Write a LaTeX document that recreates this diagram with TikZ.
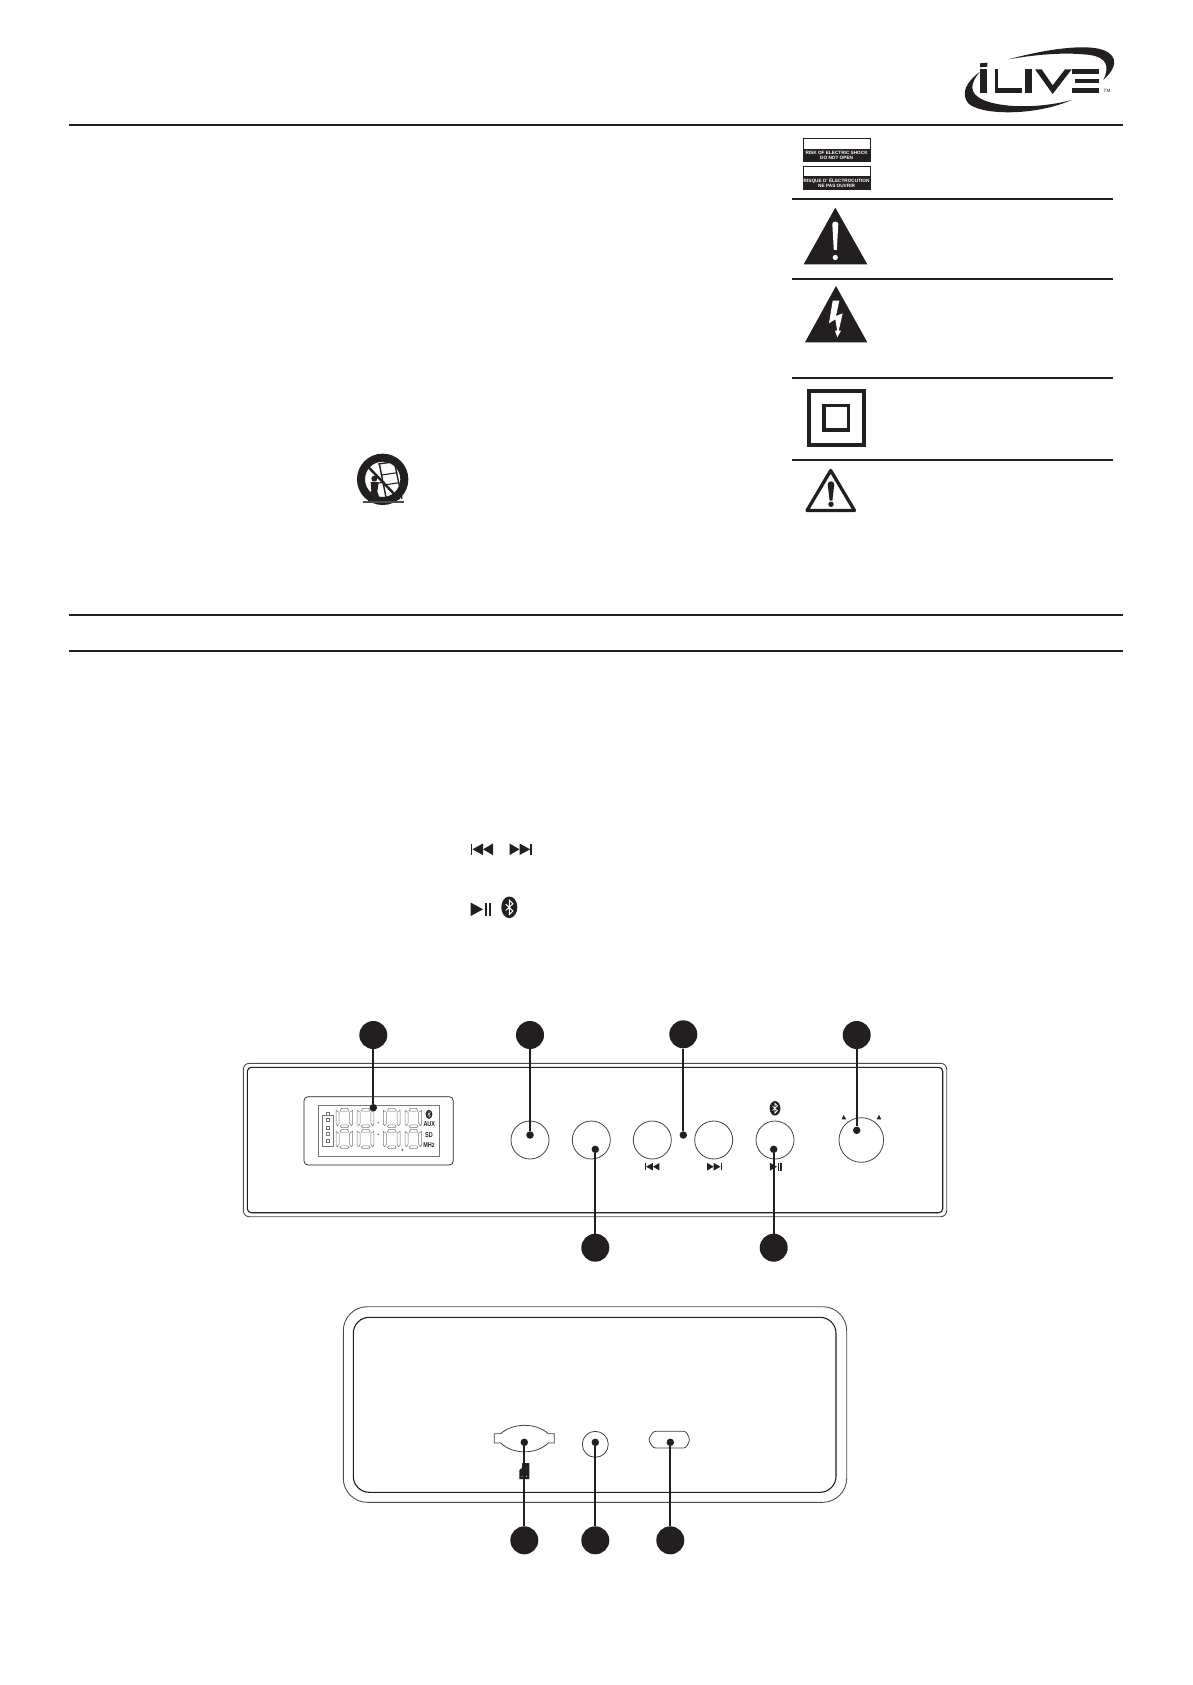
\documentclass[tikz,border=0pt]{standalone}
\usepackage{fontspec}
\setmainfont{Liberation Sans}
\definecolor{inkblack}{RGB}{35,31,32}
\definecolor{lcdgray}{RGB}{120,120,120}
\tikzset{
  rule-line/.style={draw=inkblack, line width=1.9pt},
  marker-dot/.style={circle, fill=inkblack, minimum size=28pt, inner sep=0pt},
  target-dot/.style={circle, fill=inkblack, minimum size=7.5pt, inner sep=0pt},
  lead-line/.style={draw=inkblack, line width=1.7pt},
  outer-case/.style={draw=inkblack!80, line width=0.9pt},
  inner-case/.style={draw=inkblack, line width=1.1pt},
  panel-button/.style={draw=inkblack!85, line width=0.8pt},
  lcd-part/.style={draw=lcdgray, line width=0.5pt},
  lcd-text/.style={font=\bfseries\fontsize{7}{8}\selectfont, text=inkblack, inner sep=0pt, xscale=0.78},
  label-text/.style={font=\bfseries\fontsize{4.7}{5}\selectfont, text=white, inner sep=0pt, align=center},
  pics/skip-icon/.style={code={
    \fill[inkblack] (-11,-5.8) rectangle (-9.6,5.8);
    \fill[inkblack] (-9.6,0) -- (1,-5.8) -- (1,5.8) -- cycle;
    \fill[inkblack] (1,0) -- (11,-5.8) -- (11,5.8) -- cycle;
  }},
  pics/play-icon/.style={code={
    \fill[inkblack] (-10,-6.7) -- (2.3,0) -- (-10,6.7) -- cycle;
    \fill[inkblack] (4,-6.7) rectangle (6,6.7);
    \fill[inkblack] (8,-6.7) rectangle (10,6.7);
  }},
  pics/bt-icon/.style={code={
    \fill[inkblack] (0,0) ellipse [x radius=8, y radius=10.8];
    \draw[white, line width=#1, line join=miter]
      (-3.6,-3.2) -- (3.6,3.6) -- (0,7.2) -- (0,-7.2) -- (3.6,-3.6) -- (-3.6,3.2);
  }},
  pics/lcd-digit/.style={code={
    \draw[lcd-part] (4,2.8) -- (5.5,0) -- (11.5,0) -- (13,2.8) -- cycle;
    \draw[lcd-part] (0,2) -- (3,4) -- (3,15) -- (1.5,17.5) -- (0,16) -- cycle;
    \draw[lcd-part] (16.7,2) -- (13.7,4) -- (13.7,15) -- (15.2,17.5) -- (16.7,16) -- cycle;
    \draw[lcd-part] (4,18) -- (5.5,16.6) -- (11.5,16.6) -- (13,18) -- (11.5,19.4) -- (5.5,19.4) -- cycle;
  }}
}

\begin{document}
\begin{tikzpicture}[x=1pt, y=-1pt]
  \useasboundingbox (0,0) rectangle (1192,1685);
  % Header and section rules
  \draw[rule-line] (69,125) -- (1123,125);
  \draw[rule-line] (69,615) -- (1123,615);
  \draw[rule-line] (69,651) -- (1123,651);
  \foreach \ruley in {199,279,378,460}
    \draw[rule-line] (792,\ruley) -- (1113,\ruley);

  % Logo
  \begin{scope}[shift={(760,0)}, scale=1/3]
    \fill[inkblack] (745,178) .. controls (850,150) and (950,135) .. (1010,145)
      .. controls (1065,155) and (1085,190) .. (1030,240)
      .. controls (1050,200) and (1040,172) .. (990,165)
      .. controls (910,155) and (820,165) .. (745,178);
    \fill[inkblack] (660,215) .. controls (620,245) and (600,280) .. (625,310)
      .. controls (660,345) and (820,350) .. (935,300)
      .. controls (840,325) and (730,325) .. (670,300)
      .. controls (625,280) and (630,250) .. (660,215);
    \fill[inkblack] (660,190) -- (682,188) -- (682,200) -- (660,202) -- cycle;
    \fill[inkblack] (660,208) rectangle (682,278);
    \fill[inkblack] (705,208) rectangle (713,278);
    \fill[inkblack] (705,264) rectangle (785,278);
    \fill[inkblack] (795,208) rectangle (815,278);
    \fill[inkblack] (825,208) -- (845,208) -- (878,256) -- (915,208) -- (935,208) -- (878,282) -- cycle;
    \fill[inkblack] (935,208) rectangle (1018,222);
    \fill[inkblack] (945,238) rectangle (1018,248);
    \fill[inkblack] (935,264) rectangle (1018,278);
  \end{scope}
  \node[font=\fontsize{4.6}{5}\selectfont, text=inkblack, inner sep=0pt] (logo-tm) at (1107,90.5) {TM};

  % Shock labels
  \fill[inkblack] (803.3,149) rectangle (870,161);
  \draw[inkblack, line width=0.7pt] (803.3,138.3) rectangle (870,161);
  \node[label-text] (label-en) at (836.6,155) {RISK OF ELECTRIC SHOCK\\DO NOT OPEN};
  \fill[inkblack] (803.3,176) rectangle (870,189);
  \draw[inkblack, line width=0.7pt] (803.3,166) rectangle (870,189);
  \node[label-text] (label-fr) at (836.6,182.5) {RISQUE D' ÉLECTROCUTION\\NE PAS OUVRIR};

  % Solid warning triangle
  \fill[inkblack] (835.3,207.7) -- (867.3,264.3) -- (803.7,264.3) -- cycle;
  \fill[white] (832.3,224) .. controls (832.3,220.8) and (838.3,220.8) .. (838.3,224)
    -- (836.8,250) -- (833.8,250) -- cycle;
  \fill[white] (835.3,257.5) circle[radius=2.6];

  % Lightning triangle
  \fill[inkblack] (836,286) -- (867.3,342.3) -- (805,342.3) -- cycle;
  \fill[white] (832.7,300.7) -- (839.3,300.7) -- (836,316) -- (842.7,313.3) -- (838.7,330.7)
    -- (841,330.7) -- (837.3,337.3) -- (835,330.7) -- (837.2,330.7) -- (835.3,319.3) -- (829,323.3) -- cycle;

  % Double insulation squares
  \draw[inkblack, line width=3.3pt] (809,391) rectangle (864,445);
  \draw[inkblack, line width=3.3pt] (824,405.7) rectangle (848.4,430);

  % Outline warning triangle
  \draw[inkblack, line width=3.3pt, line join=round] (830.7,470.5) -- (854.5,510.5) -- (807,510.5) -- cycle;
  \fill[inkblack] (827.7,484.5) .. controls (827.7,480.2) and (834.3,480.2) .. (834.3,484.5)
    -- (832.4,500.5) -- (829.6,500.5) -- cycle;
  \fill[inkblack] (831,504.3) circle[radius=2.7];

  % Do not tip icon
  \begin{scope}[shift={(340,440)}, scale=1/3]
    \draw[inkblack, line width=8pt] (128,118) circle[radius=65];
    \draw[inkblack, line width=2.4pt] (82,78) -- (178,178);
    \draw[inkblack, line width=1.4pt] (115,72) -- (165,65);
    \draw[inkblack, line width=1.4pt] (118,72) -- (140,182);
    \draw[inkblack, line width=1.4pt] (163,65) -- (186,176);
    \draw[inkblack, line width=1.1pt] (125,105) -- (172,98);
    \draw[inkblack, line width=1.1pt] (132,135) -- (178,128);
    \fill[inkblack] (103,116) circle[radius=9];
    \fill[inkblack] (92,126) -- (116,126) -- (112,155) -- (122,183) -- (110,183) -- (101,160) -- (94,183) -- (84,183) -- (94,150) -- cycle;
    \draw[inkblack, line width=1.1pt] (110,130) -- (134,126);
    \draw[inkblack!80, line width=1.2pt] (68,186) -- (192,186);
  \end{scope}

  % Inline key symbols
  \pic at (482,849.3) {skip-icon};
  \pic[xscale=-1] at (520.5,849.3) {skip-icon};
  \pic at (480.7,909.3) {play-icon};
  \pic at (509.3,907.3) {bt-icon=1};

  % Front panel
  \draw[outer-case, rounded corners=6pt] (243.3,1063.3) rectangle (946.7,1216.7);
  \draw[inner-case, rounded corners=4pt] (247.3,1067.3) rectangle (942.7,1212.7);

  % Display
  \draw[inkblack, line width=0.7pt, rounded corners=4pt] (304,1096.7) rectangle (453.3,1165);
  \draw[lcdgray, line width=0.5pt] (318,1105.3) rectangle (439.3,1156.7);
  \foreach \digitx in {336,357.2,383.3,405}{
    \pic at (\digitx,1108.3) {lcd-digit};
    \pic at (\digitx,1129.3) {lcd-digit};
  }
  \draw[lcd-part] (322.3,1115) rectangle (333.7,1146.7);
  \draw[lcd-part] (326,1112) rectangle (329.3,1115);
  \foreach \celly in {1120,1127.3,1134,1140.7}
    \draw[lcd-part] (326.5,\celly-1.5) rectangle (329.5,\celly+1.5);
  \fill[lcdgray] (378.3,1122.7) circle[radius=0.9];
  \fill[lcdgray] (378.3,1134.3) circle[radius=0.9];
  \draw[lcd-part] (402.3,1150) circle[radius=0.9];
  \pic[scale=0.42] at (429,1114.3) {bt-icon=0.3};
  \node[lcd-text] (lcd-aux) at (429.3,1124.3) {AUX};
  \node[lcd-text] (lcd-sd) at (429,1134.7) {SD};
  \node[lcd-text] (lcd-mhz) at (429,1145) {MHz};

  % Buttons
  \foreach \buttonx in {530,591.3,652.3,713.7,775}
    \draw[panel-button] (\buttonx,1140) circle[radius=19];
  \draw[panel-button] (861.3,1140) circle[radius=22.3];
  \fill[inkblack] (843.7,1115) -- (846.2,1119.3) -- (841.6,1119.3) -- cycle;
  \fill[inkblack] (879,1115) -- (881.2,1119.3) -- (876.6,1119.3) -- cycle;
  \pic[scale=0.65] at (652.3,1166.7) {skip-icon};
  \pic[xscale=-0.65, yscale=0.65] at (714.3,1166.7) {skip-icon};
  \pic[scale=0.58] at (775.7,1166.7) {play-icon};
  \pic[scale=0.67] at (775,1108.3) {bt-icon=0.7};

  % Back panel
  \draw[outer-case, rounded corners=24pt] (343.3,1306.7) rectangle (846.7,1502.3);
  \draw[inner-case, rounded corners=16pt] (353.3,1317.3) rectangle (836,1492.3);
  \draw[panel-button] (494.3,1433.7) -- (500.7,1433.7) .. controls (513,1422.5) and (536,1422.5) .. (548.3,1433.7)
    -- (554.3,1433.7) -- (554.3,1443) -- (548.3,1443) .. controls (536,1454.8) and (513,1454.8) .. (500.7,1443)
    -- (494.3,1443) -- cycle;
  \draw[panel-button] (595.3,1444.3) circle[radius=13];
  \draw[panel-button, rounded corners=2.5pt] (653.3,1431.3) -- (686,1431.3) -- (690,1439.7) -- (686,1448) -- (653.3,1448) -- (648.3,1439.7) -- cycle;
  \fill[inkblack] (522,1463) -- (529.3,1463) -- (529.3,1479) -- (519.3,1479) -- (519.3,1470) -- (522,1468) -- cycle;

  % Markers, targets and leads
  \node[marker-dot] (top-display) at (373.3,1035) {};
  \node[marker-dot] (top-power) at (530,1035) {};
  \node[marker-dot] (top-skip) at (683.3,1034.3) {};
  \node[marker-dot] (top-knob) at (856.7,1035) {};
  \node[marker-dot] (low-mode) at (595.3,1247.7) {};
  \node[marker-dot] (low-play) at (773.7,1247.7) {};
  \node[marker-dot] (back-card) at (524.3,1540.3) {};
  \node[marker-dot] (back-jack) at (595.3,1540.3) {};
  \node[marker-dot] (back-usb) at (670.3,1540.3) {};
  \node[target-dot] (dot-display) at (373.3,1107.7) {};
  \node[target-dot] (dot-power) at (530,1135) {};
  \node[target-dot] (dot-skip) at (683.3,1135) {};
  \node[target-dot] (dot-knob) at (856.7,1130.3) {};
  \node[target-dot] (dot-mode) at (595.3,1149.3) {};
  \node[target-dot] (dot-play) at (773.7,1149.3) {};
  \node[target-dot] (dot-card) at (524.3,1442.3) {};
  \node[target-dot] (dot-jack) at (595.3,1442.3) {};
  \node[target-dot] (dot-usb) at (670.3,1442.3) {};
  \draw[lead-line] (top-display) -- (dot-display);
  \draw[lead-line] (top-power) -- (dot-power);
  \draw[lead-line] (top-skip) -- (dot-skip);
  \draw[lead-line] (top-knob) -- (dot-knob);
  \draw[lead-line] (low-mode) -- (dot-mode);
  \draw[lead-line] (low-play) -- (dot-play);
  \draw[lead-line] (back-card) -- (dot-card);
  \draw[lead-line] (back-jack) -- (dot-jack);
  \draw[lead-line] (back-usb) -- (dot-usb);
  % SD card contacts sit over the lead
  \fill[white] (522,1476.3) circle[radius=0.5];
  \fill[white] (526.5,1476.3) circle[radius=0.5];
\end{tikzpicture}
\end{document}
